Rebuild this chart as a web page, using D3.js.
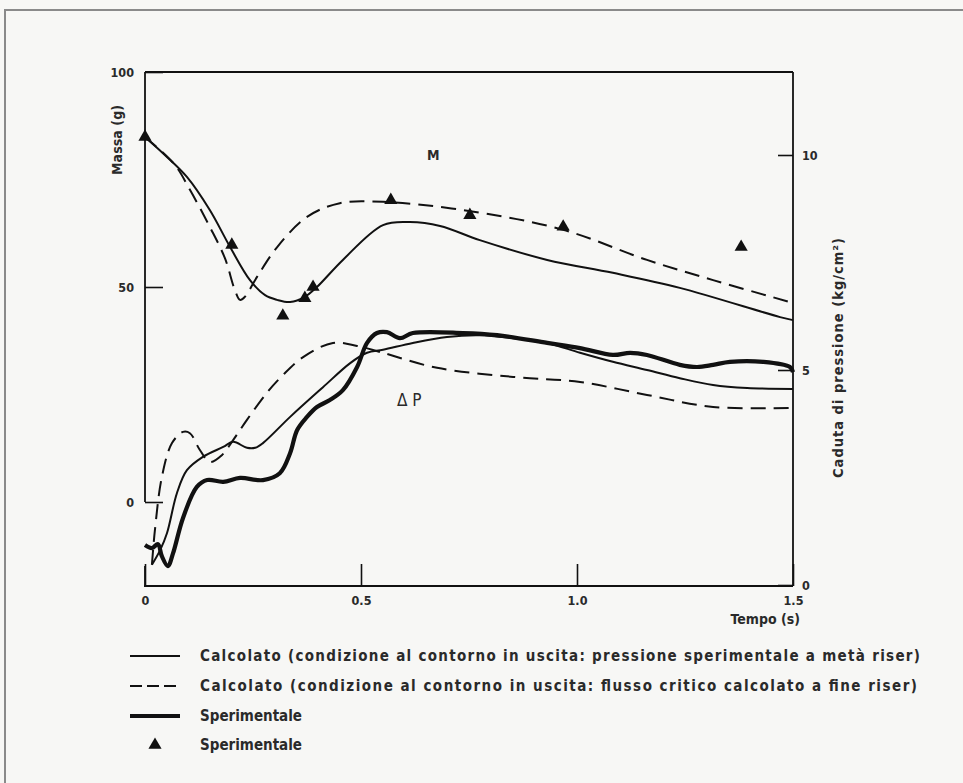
<!DOCTYPE html>
<html>
<head>
<meta charset="utf-8">
<script src="https://cdn.jsdelivr.net/npm/d3@7/dist/d3.min.js"></script>
<style>
  html, body { margin: 0; padding: 0; background: #f7f7f5; }
  svg { display: block; }
  text { font-family: "DejaVu Sans Condensed", "DejaVu Sans", "Liberation Sans", sans-serif; font-stretch: condensed; fill: #2a2a2a; }
</style>
</head>
<body>
<svg id="chart" width="963" height="783"></svg>
<script>
// ---- Data (time in s; mass in g; pressure drop in kg/cm2) ----
const xTicks = [0, 0.5, 1.0, 1.5];
const massTicks = [0, 50, 100];
const pressTicks = [0, 5, 10];

// Calcolato (pressione sperimentale a metà riser) - mass
const massCalcSolid = [
  [0, 84.9], [0.046, 80.7], [0.097, 75.6], [0.150, 67.9], [0.197, 59.3], [0.243, 51.6],
  [0.278, 48.1], [0.306, 47.0], [0.336, 46.5], [0.370, 47.7], [0.398, 50.0], [0.458, 56.3],
  [0.551, 64.4], [0.613, 65.1], [0.683, 64.2], [0.775, 60.9], [0.931, 56.3], [1.083, 53.3],
  [1.238, 49.8], [1.470, 43.0], [1.5, 42.3]
];
// Calcolato (flusso critico a fine riser) - mass
const massCalcDashed = [
  [0, 84.9], [0.069, 78.4], [0.104, 72.6], [0.150, 64.0], [0.185, 56.7], [0.208, 49.3],
  [0.220, 47.0], [0.231, 47.7], [0.259, 52.3], [0.306, 59.3], [0.375, 66.3], [0.451, 69.5],
  [0.551, 69.8], [0.736, 67.9], [0.968, 63.3], [1.162, 56.3], [1.315, 51.6], [1.5, 46.3]
];
// Sperimentale - mass (triangles)
const massExp = [
  [0, 84.9], [0.201, 59.8], [0.319, 43.3], [0.370, 47.4], [0.389, 50.0],
  [0.569, 70.2], [0.752, 66.7], [0.968, 64.0], [1.380, 59.3]
];
// Calcolato (pressione sperimentale) - pressure drop
const pressCalcSolid = [
  [0.016, 0.47], [0.035, 0.81], [0.051, 1.21], [0.074, 2.14], [0.097, 2.67], [0.134, 2.98],
  [0.181, 3.21], [0.204, 3.33], [0.236, 3.19], [0.255, 3.19], [0.273, 3.30], [0.336, 3.91],
  [0.412, 4.60], [0.475, 5.16], [0.514, 5.40], [0.551, 5.47], [0.620, 5.63], [0.699, 5.77],
  [0.775, 5.81], [0.852, 5.74], [0.931, 5.63], [1.007, 5.40], [1.083, 5.19], [1.162, 5.00],
  [1.238, 4.81], [1.315, 4.65], [1.394, 4.58], [1.5, 4.56]
];
// Calcolato (flusso critico) - pressure drop
const pressCalcDashed = [
  [0.016, 0.47], [0.023, 1.28], [0.039, 2.51], [0.0625, 3.30], [0.088, 3.56], [0.104, 3.53],
  [0.127, 3.14], [0.150, 2.86], [0.178, 3.02], [0.204, 3.37], [0.236, 3.84], [0.282, 4.47],
  [0.319, 4.88], [0.366, 5.30], [0.435, 5.63], [0.491, 5.56], [0.544, 5.42], [0.676, 5.05],
  [0.852, 4.84], [1.007, 4.72], [1.162, 4.42], [1.315, 4.14], [1.5, 4.12]
];
// Sperimentale - pressure drop (thick line)
const pressExp = [
  [0, 0.93], [0.016, 0.86], [0.030, 0.95], [0.039, 0.67], [0.053, 0.44], [0.065, 0.74],
  [0.088, 1.56], [0.120, 2.28], [0.144, 2.44], [0.181, 2.40], [0.220, 2.49], [0.273, 2.44],
  [0.312, 2.60], [0.336, 3.07], [0.352, 3.60], [0.375, 3.91], [0.398, 4.14], [0.428, 4.30],
  [0.458, 4.53], [0.491, 5.07], [0.514, 5.63], [0.537, 5.86], [0.560, 5.88], [0.590, 5.74],
  [0.620, 5.86], [0.736, 5.86], [0.815, 5.81], [0.931, 5.63], [1.007, 5.51], [1.083, 5.35],
  [1.123, 5.40], [1.162, 5.35], [1.238, 5.12], [1.278, 5.07], [1.315, 5.12], [1.354, 5.19],
  [1.431, 5.19], [1.493, 5.07], [1.5, 4.95]
];

const legendItems = [
  { label: "Calcolato (condizione al contorno in uscita: pressione sperimentale a metà riser)", type: "solid" },
  { label: "Calcolato (condizione al contorno in uscita: flusso critico calcolato a fine riser)", type: "dashed" },
  { label: "Sperimentale", type: "thick" },
  { label: "Sperimentale", type: "triangle" }
];

// ---- Drawing ----
const svg = d3.select("#chart");
const ink = "#111";

// outer frame
svg.append("rect").attr("x", 5).attr("y", 10).attr("width", 990).attr("height", 800)
  .attr("fill", "none").attr("stroke", "#8a8a8a").attr("stroke-width", 2);

const L = 145, R = 793, T = 72, B = 586;
const x = d3.scaleLinear().domain([0, 1.5]).range([L, R]);
const yM = d3.scaleLinear().domain([0, 100]).range([502, T]);
const yP = d3.scaleLinear().domain([0, 10]).range([585, 155]);

// frame lines
const frame = svg.append("g").attr("stroke", ink).attr("stroke-width", 1.8).attr("fill", "none");
frame.append("line").attr("x1", L).attr("x2", R).attr("y1", T).attr("y2", T);
frame.append("line").attr("x1", R).attr("x2", R).attr("y1", T).attr("y2", B);
frame.append("line").attr("x1", L - 1).attr("x2", R).attr("y1", B).attr("y2", B);
frame.append("line").attr("x1", L).attr("x2", L).attr("y1", T).attr("y2", yM(0));
frame.append("line").attr("x1", L).attr("x2", L).attr("y1", 566).attr("y2", B);

function styleAxis(g) {
  g.select(".domain").remove();
  g.selectAll(".tick line").attr("stroke", ink).attr("stroke-width", 1.6);
  g.selectAll(".tick text").attr("font-size", 12.5).attr("font-weight", "bold").attr("fill", "#2a2a2a");
}

svg.append("g").attr("transform", `translate(${L},0)`)
  .call(d3.axisLeft(yM).tickValues(massTicks).tickSizeInner(-18).tickSizeOuter(0).tickPadding(11))
  .call(styleAxis);

svg.append("g").attr("transform", `translate(${R},0)`)
  .call(d3.axisRight(yP).tickValues(pressTicks).tickSizeInner(-15).tickSizeOuter(0).tickPadding(9)
    .tickFormat(d3.format("d")))
  .call(styleAxis);

svg.append("g").attr("transform", `translate(0,${B})`)
  .call(d3.axisBottom(x).tickValues(xTicks).tickSizeInner(-22).tickSizeOuter(0).tickPadding(10)
    .tickFormat(d => d === 0 ? "0" : d3.format(".1f")(d)))
  .call(styleAxis);

// axis titles
svg.append("text").attr("transform", "translate(122,140) rotate(-90)")
  .attr("text-anchor", "middle").attr("font-size", 14).attr("font-weight", "bold")
  .attr("textLength", 70).attr("lengthAdjust", "spacing").text("Massa (g)");
svg.append("text").attr("transform", "translate(843,358) rotate(-90)")
  .attr("text-anchor", "middle").attr("font-size", 14.5).attr("font-weight", "bold")
  .attr("textLength", 240).attr("lengthAdjust", "spacing")
  .text("Caduta di pressione (kg/cm²)");
svg.append("text").attr("x", 800).attr("y", 624).attr("text-anchor", "end")
  .attr("font-size", 14).attr("font-weight", "bold").text("Tempo (s)");

// annotations
svg.append("text").attr("x", 427).attr("y", 160).attr("font-size", 14).attr("font-weight", "bold").text("M");
svg.append("text").attr("x", 397).attr("y", 406).attr("font-size", 17).text("Δ P");

// curves
const lineM = d3.line().x(d => x(d[0])).y(d => yM(d[1])).curve(d3.curveCatmullRom.alpha(0.5));
const lineP = d3.line().x(d => x(d[0])).y(d => yP(d[1])).curve(d3.curveCatmullRom.alpha(0.5));

const curves = svg.append("g").attr("fill", "none").attr("stroke", ink).attr("stroke-linejoin", "round");
curves.append("path").attr("d", lineP(pressExp)).attr("stroke-width", 4.2);
curves.append("path").attr("d", lineP(pressCalcSolid)).attr("stroke-width", 2);
curves.append("path").attr("d", lineP(pressCalcDashed)).attr("stroke-width", 2).attr("stroke-dasharray", "15,8");
curves.append("path").attr("d", lineM(massCalcSolid)).attr("stroke-width", 2);
curves.append("path").attr("d", lineM(massCalcDashed)).attr("stroke-width", 2).attr("stroke-dasharray", "15,8");

const tri = d3.symbol().type(d3.symbolTriangle).size(75);
svg.append("g").selectAll("path").data(massExp).join("path")
  .attr("transform", d => `translate(${x(d[0])},${yM(d[1])})`)
  .attr("d", tri).attr("fill", ink);

// legend
const legY = [656, 686, 716, 745];
const textEnds = [920, 917, null, null];
const leg = svg.append("g");
legendItems.forEach((it, i) => {
  const y = legY[i];
  if (it.type === "solid") {
    leg.append("line").attr("x1", 130).attr("x2", 180).attr("y1", y).attr("y2", y)
      .attr("stroke", ink).attr("stroke-width", 2);
  } else if (it.type === "dashed") {
    leg.append("line").attr("x1", 130).attr("x2", 180).attr("y1", y).attr("y2", y)
      .attr("stroke", ink).attr("stroke-width", 2).attr("stroke-dasharray", "12,5");
  } else if (it.type === "thick") {
    leg.append("line").attr("x1", 130).attr("x2", 180).attr("y1", y).attr("y2", y)
      .attr("stroke", ink).attr("stroke-width", 4);
  } else {
    leg.append("path").attr("transform", `translate(155,${y})`).attr("d", tri).attr("fill", ink);
  }
  const t = leg.append("text").attr("x", 200).attr("y", y + 5).attr("font-size", 15).attr("font-weight", "bold")
    .text(it.label);
  if (textEnds[i]) t.attr("textLength", textEnds[i] - 200).attr("lengthAdjust", "spacing");
});
</script>
</body>
</html>
